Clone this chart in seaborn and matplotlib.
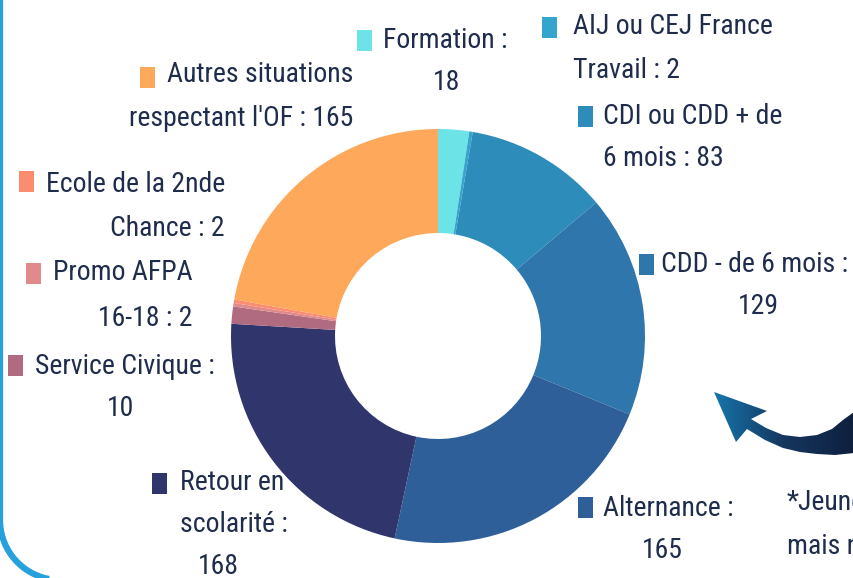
import numpy as np
import matplotlib
matplotlib.use("Agg")
import matplotlib.pyplot as plt
import seaborn as sns
from matplotlib import font_manager as fm
from matplotlib.patches import Rectangle, Polygon, PathPatch
from matplotlib.path import Path

# data, clockwise from 12 o'clock
categories = ["Formation", "AIJ ou CEJ France Travail", "CDI ou CDD + de 6 mois",
              "CDD - de 6 mois", "Alternance", "Retour en scolarité",
              "Service Civique", "Promo AFPA 16-18", "Ecole de la 2nde Chance",
              "Autres situations respectant l'OF"]
values = [18, 2, 83, 129, 165, 168, 10, 2, 2, 165]
colors = ["#6ce3e7", "#35a5cd", "#2e8cba", "#2e76ab", "#2f5f99",
          "#30356c", "#b06b81", "#e08a8c", "#fb8c70", "#fda85a"]
# label lines (first line, second line)
label_lines = [("Formation :", "18"),
               ("AIJ ou CEJ France", "Travail : 2"),
               ("CDI ou CDD + de", "6 mois : 83"),
               ("CDD - de 6 mois :", "129"),
               ("Alternance :", "165"),
               ("Retour en", "scolarité :"),
               ("Service Civique :", "10"),
               ("Promo AFPA", "16-18 : 2"),
               ("Ecole de la 2nde", "Chance : 2"),
               ("Autres situations", "respectant l'OF : 165")]

sns.set_theme(style="white")
plt.rcParams['font.family'] = ['DejaVu Sans']

# look for a narrow / condensed face among the installed fonts
def find_narrow():
    prefs = ["Open Sans", "Roboto", "Noto Sans", "Liberation Sans", "DejaVu Sans", "Lato"]
    found = []
    for f in fm.fontManager.ttflist:
        low = (f.name + " " + f.fname).lower()
        if f.style != 'normal':
            continue
        if 'bold' in low or 'light' in low or 'thin' in low or 'medium' in low or 'black' in low:
            continue
        if 'narrow' in low or 'condensed' in low or f.stretch in ('condensed', 'semi-condensed'):
            if 'semi' in low or 'extra' in low or 'ultra' in low:
                continue
            rank = next((i for i, p in enumerate(prefs) if f.name.startswith(p)), 99)
            found.append((rank, f.fname))
    found.sort()
    return found[0][1] if found else None

narrow = find_narrow()
if narrow:
    fp = fm.FontProperties(fname=narrow)
    fs = 20
else:
    fp = fm.FontProperties(family='DejaVu Sans')
    fs = 15

W, H = 854, 578
def Y(y):
    return H - y

fig = plt.figure(figsize=(W / 100, H / 100), dpi=100)
ax = fig.add_axes([0, 0, 1, 1])

ax.pie(values, colors=colors, startangle=90, counterclock=False,
       center=(438, Y(336)), radius=207,
       wedgeprops=dict(width=104, linewidth=0))

ax.set_xlim(0, W)
ax.set_ylim(0, H)
ax.set_aspect('equal')
ax.axis('off')

txt = "#1f2c4c"

# (square x, square y, line1 x, line1 y, ha1, line2 x, line2 y, ha2)
layout = [
    (357, 30, 383, 40, 'left', 447, 82, 'center'),
    (542, 17, 573, 27, 'left', 573, 70, 'left'),
    (578, 106, 603, 116, 'left', 603, 158, 'left'),
    (639, 254, 661, 265, 'left', 758, 307, 'center'),
    (578, 497, 603, 509, 'left', 662, 550, 'center'),
    (152, 473, 180, 483, 'left', 180, 525, 'left'),
    (8, 355, 35, 366, 'left', 121, 408, 'center'),
    (31, 263, 193, 273, 'right', 193, 318, 'right'),
    (20, 171, 225, 185, 'right', 225, 228, 'right'),
    (143, 67, 353, 75, 'right', 353, 118, 'right'),
]

fig.canvas.draw()
renderer = fig.canvas.get_renderer()

for (sx, sy, x1, y1, h1, x2, y2, h2), (l1, l2), c in zip(layout, label_lines, colors):
    t1 = ax.text(x1, Y(y1), l1, ha=h1, va='center', fontproperties=fp, fontsize=fs, color=txt)
    ax.text(x2, Y(y2), l2, ha=h2, va='center', fontproperties=fp, fontsize=fs, color=txt)
    if h1 == 'right':
        # square sits just before the right-aligned first line
        sx = t1.get_window_extent(renderer).x0 - 12 - 15
    ax.add_patch(Rectangle((sx, Y(sy + 21)), 15, 21, color=c, lw=0))

ax.text(218, Y(566), "168", ha='center', va='center', fontproperties=fp, fontsize=fs, color=txt)

# side note, cut by the frame edge
ax.text(787, Y(503), "*Jeunes", ha='left', va='center', fontproperties=fp, fontsize=fs, color=txt)
ax.text(787, Y(546), "mais ne", ha='left', va='center', fontproperties=fp, fontsize=fs, color=txt)

# curved arrow with gradient
arrow_pts = [(714, 392), (767, 411), (751, 419), (766, 428), (783, 435), (800, 437),
             (817, 435), (832, 429), (843, 420), (854, 412), (860, 405),
             (860, 452), (854, 453), (835, 455), (817, 454), (800, 452), (783, 448),
             (765, 440), (747, 429), (736, 442)]
arrow = Polygon([(x, Y(y)) for x, y in arrow_pts], closed=True, facecolor='none', edgecolor='none')
ax.add_patch(arrow)
grad = np.linspace(0, 1, 256).reshape(1, -1)
cmap = matplotlib.colors.LinearSegmentedColormap.from_list("arr", ["#1677ad", "#15365f", "#0f1f3d"])
im = ax.imshow(grad, extent=(712, 856, Y(460), Y(388)), cmap=cmap, aspect='auto', zorder=3)
im.set_clip_path(arrow)

# frame border on the left
t = np.linspace(np.pi, np.pi * 1.5, 40)
bx = list(60 + 60 * np.cos(t))
by = list(520 - 60 * np.sin(t))
verts = [(0, Y(-5)), (0, Y(520))] + [(x, Y(y)) for x, y in zip(bx, by)] + [(200, Y(580))]
border = PathPatch(Path(verts), fill=False, edgecolor="#26a1de", lw=4.5, capstyle='butt')
ax.add_patch(border)

ax.set_xlim(0, W)
ax.set_ylim(0, H)

plt.savefig("out.png", dpi=100)
